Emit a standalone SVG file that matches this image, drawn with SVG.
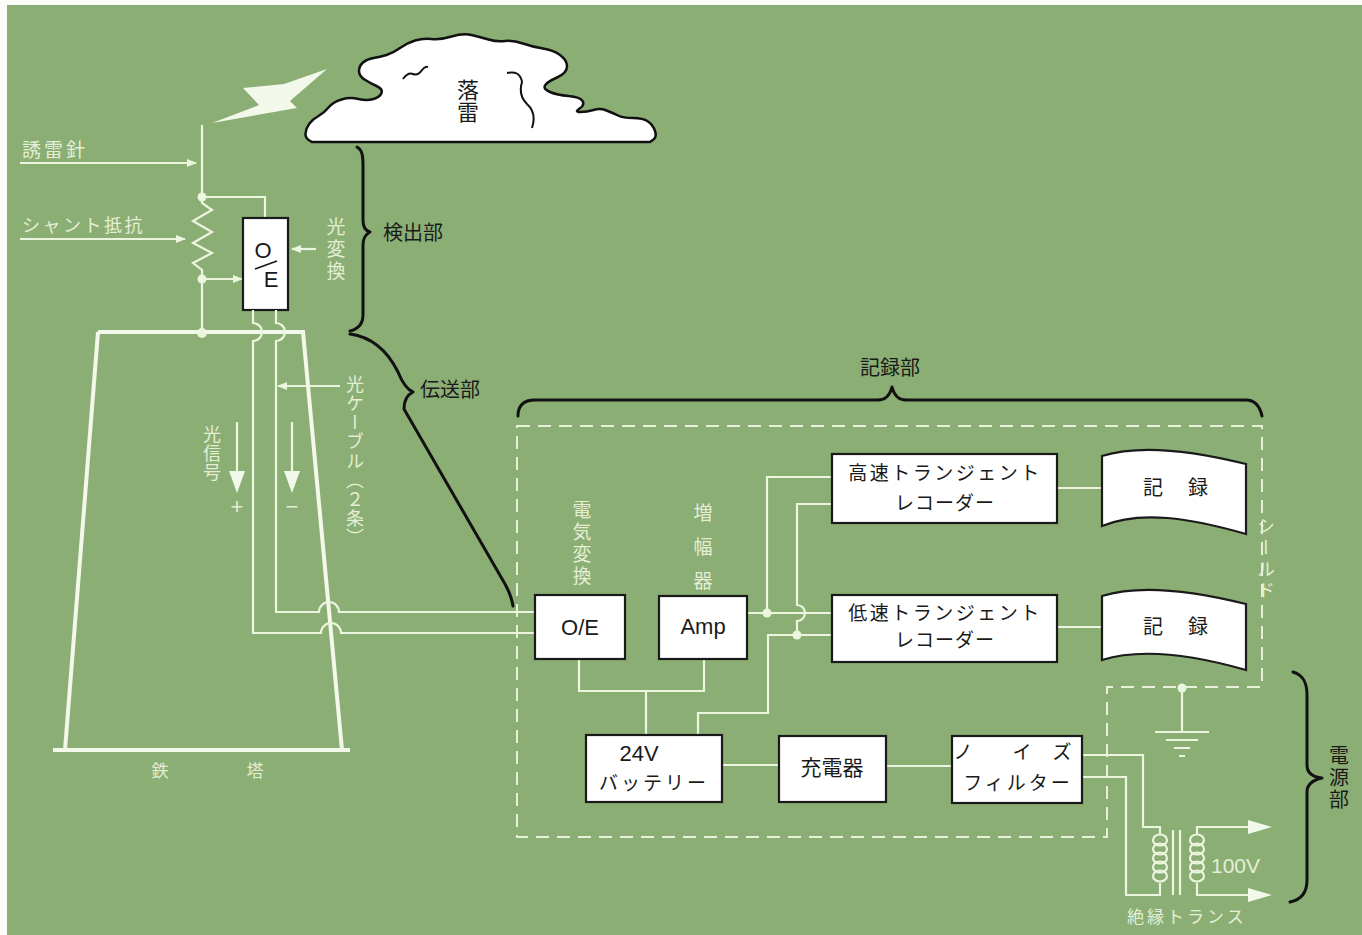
<svg xmlns="http://www.w3.org/2000/svg" width="1362" height="935" viewBox="0 0 1362 935">
<defs>
<style>
.w{fill:none;stroke:#ecf5de;stroke-width:2.2}
.tw{fill:none;stroke:#f2f8ea;stroke-width:4}
.dot{fill:#ecf5de}
.pf{fill:#f2f8ea}
.box{fill:#fff;stroke:#1a1a1a;stroke-width:2.2}
.blk{fill:none;stroke:#111;stroke-width:3;stroke-linecap:round;stroke-linejoin:round}
.dash{fill:none;stroke:#e6f1d8;stroke-width:2;stroke-dasharray:13 8}
.t{font-family:"Noto Sans CJK JP","Noto Sans",sans-serif;fill:#1a1a1a}
.pl{font-family:"Noto Sans CJK JP","Noto Sans",sans-serif;fill:#e4eed6}
.pll{font-family:"Liberation Sans","DejaVu Sans",sans-serif;fill:#e4eed6}
.lt{font-family:"Liberation Sans","DejaVu Sans",sans-serif;fill:#1a1a1a}
.v{writing-mode:vertical-rl}
</style>
<marker id="ah" viewBox="0 0 10 8" refX="9" refY="4" markerWidth="10" markerHeight="8" markerUnits="userSpaceOnUse" orient="auto"><path d="M0,0 L10,4 L0,8 z" fill="#ecf5de"/></marker>
</defs>

<!-- paper and green panel -->
<rect width="1362" height="935" fill="#fbfbf8"/>
<rect x="7" y="5" width="1355" height="930" fill="#8bae74"/>

<!-- thundercloud -->
<g id="cloud">
<path d="M312,142 Q305,139 305.5,133.5 Q306,128 309.5,123.5 Q313,119 318.5,116 Q324,113 328.5,107.5 Q333,102 341.5,99.5 Q350,97 358.5,99 Q367,101 373.5,99 Q380,97 381.5,93 Q383,89 376.5,86 Q370,83 364.5,79.5 Q359,76 359,71 Q359,66 363,62.5 Q367,59 373.5,58 Q380,57 386.5,55 Q393,53 400,48 Q407,43 415,40.5 Q423,38 431.5,39 Q440,40 451.5,36.5 Q463,33 471.5,35 Q480,37 488.5,39.5 Q497,42 505,41 Q513,40 523,43.5 Q533,47 543,48.5 Q553,50 560,55 Q567,60 567,66.5 Q567,73 557,77.5 Q547,82 545,85.5 Q543,89 550,92 Q557,95 568.5,96 Q580,97 582.5,101 Q585,105 579.5,108.5 Q574,112 580.5,112 Q587,112 593.5,110 Q600,108 606.5,110.5 Q613,113 618,115.5 Q623,118 633,118 Q643,118 648,121.5 Q653,125 655,131 Q657,137 653.5,139.5 L650,142 Z" fill="#fff" stroke="#111" stroke-width="2.5" stroke-linejoin="round"/>
<path d="M403,79 Q408,72 413,74 Q418,76 422,70 Q425,66 428,67" fill="none" stroke="#111" stroke-width="2"/>
<path d="M507,73 Q520,70 522,82 Q518,95 527,104 Q537,113 532,128" fill="none" stroke="#111" stroke-width="2"/>
<text class="t v" x="468" y="79" font-size="22">落雷</text>
</g>

<!-- lightning stroke -->
<g id="bolt">
<polygon points="243,88 284,84 327,69 290,101 297,108 212,123 259,105" class="pf"/>
</g>

<!-- steel tower -->
<g id="tower">
<path class="tw" d="M98,332 H303 L342,750 M98,332 L65,750 M53,750 H350"/>
<text class="pl" x="160" y="777" font-size="17" text-anchor="middle">鉄</text>
<text class="pl" x="255" y="777" font-size="17" text-anchor="middle">塔</text>
</g>

<!-- lightning rod, shunt resistor and optical converter -->
<g id="detector">
<path class="w" d="M202,125 V203 L212,210 L193,221 L212,232 L193,243 L212,253 L193,263 L202,270 V333"/>
<path class="w" d="M202,197 H265 V218"/>
<path class="w" d="M202,279 H242" marker-end="url(#ah)"/>
<circle class="dot" cx="202" cy="197" r="4.5"/>
<circle class="dot" cx="202" cy="279" r="4.5"/>
<circle class="dot" cx="202" cy="333" r="5"/>
<rect class="box" x="243" y="218" width="45" height="92"/>
<text class="lt" x="263" y="258" font-size="22" text-anchor="middle">O</text>
<line x1="255" y1="269" x2="277" y2="261" stroke="#1a1a1a" stroke-width="1.8"/>
<text class="lt" x="271" y="287" font-size="22" text-anchor="middle">E</text>
</g>

<!-- pointer labels on the tower side -->
<g id="labels-left">
<path class="w" d="M20,163 H196" marker-end="url(#ah)"/>
<text class="pl" x="22" y="157" font-size="19" letter-spacing="3">誘雷針</text>
<path class="w" d="M20,239 H185" marker-end="url(#ah)"/>
<text class="pl" x="22" y="232" font-size="18" letter-spacing="2.5">シャント抵抗</text>
<path class="w" d="M316,249 H292" marker-end="url(#ah)"/>
<text class="pl v" x="336" y="217" font-size="19" letter-spacing="3">光変換</text>
<path class="w" d="M340,386 H278" marker-end="url(#ah)"/>
<text class="pl v" x="355" y="375" font-size="18" letter-spacing="1.2">光ケーブル（２条）</text>
<text class="pl v" x="212" y="425" font-size="18" letter-spacing="1">光信号</text>
<line class="w" x1="237" y1="422" x2="237" y2="474"/>
<polygon class="pf" points="229,471 245,471 237,493"/>
<line class="w" x1="292" y1="422" x2="292" y2="474"/>
<polygon class="pf" points="284,471 300,471 292,493"/>
<text class="pll" x="237" y="514" font-size="22" text-anchor="middle">+</text>
<text class="pll" x="292" y="514" font-size="22" text-anchor="middle">−</text>
</g>

<!-- section braces -->
<g id="braces">
<path class="blk" d="M357,147 C362,150 363,155 363,165 V220 C363,227 366,231 370,232 C366,234 363,238 363,245 V315 C363,324 358,329 350,331"/>
<text class="t" x="383" y="240" font-size="20">検出部</text>
<path class="blk" d="M350,334 C372,337 388,352 398,372 C402,382 406,389 413,392 C407,395 404,401 404,409 L505,584 C510,593 512,599 513,606"/>
<text class="t" x="420" y="397" font-size="20">伝送部</text>
<path class="blk" d="M518,416 C518,406 523,400 535,400 H878 C886,400 890,395 892,387 C894,395 898,400 906,400 H1246 C1255,400 1260,407 1262,416"/>
<text class="t" x="860" y="375" font-size="20">記録部</text>
<path class="blk" d="M1293,672 C1303,675 1307,682 1307,695 V765 C1307,773 1313,777 1322,778 C1313,780 1307,784 1307,792 V880 C1307,893 1300,900 1290,902"/>
<text class="t v" x="1339" y="745" font-size="20" letter-spacing="2">電源部</text>
</g>

<!-- shield enclosure -->
<g id="shield">
<path class="dash" d="M517,426 H1262 V687 H1107 V837 H517 Z"/>
<text class="pl v" x="1266" y="517" font-size="18" letter-spacing="3.5">シールド</text>
</g>

<!-- wiring -->
<g id="connectors">
<!-- optical cables from the tower-top converter -->
<path class="w" d="M253,310 V323 A9,9 0 0 1 253,341 V633 H321 A10,10 0 0 1 341,633 H535"/>
<path class="w" d="M276,310 V323 A9,9 0 0 1 276,341 V612 H319 A10,10 0 0 1 339,612 H535"/>
<!-- amplifier to transient recorders -->
<path class="w" d="M747,613 H832"/>
<path class="w" d="M767,613 V477 H832"/>
<path class="w" d="M832,504 H797 V605 A8,8 0 0 1 797,621 V635"/>
<path class="w" d="M832,635 H768 V713 H698 V735"/>
<circle class="dot" cx="767" cy="613" r="4.5"/>
<circle class="dot" cx="797" cy="635" r="4.5"/>
<!-- recorders to charts -->
<path class="w" d="M1057,488 H1102 M1057,627 H1102"/>
<!-- supply lines -->
<path class="w" d="M579,659 V691 H704 V659 M646,691 V735"/>
<path class="w" d="M722,765 H779 M886,766 H952"/>
<!-- filter to isolation transformer -->
<path class="w" d="M1082,755 H1143 V827 H1160 V835"/>
<path class="w" d="M1082,777 H1126 V895 H1160 V883"/>
<path class="w" d="M1173,830 V895 M1180,830 V895"/>
<path class="w" d="M1197,835 V827 H1250 M1197,883 V895 H1250"/>
<!-- ground -->
<path class="w" d="M1182,688 V732 M1155,732 H1209 M1166,740 H1198 M1174,748 H1190 M1179,756 H1185"/>
<circle class="dot" cx="1182" cy="688" r="4.5"/>
</g>

<!-- isolation transformer coils -->
<g id="transformer">
<ellipse class="w" cx="1160" cy="840" rx="7" ry="5.5"/>
<ellipse class="w" cx="1160" cy="849" rx="7" ry="5.5"/>
<ellipse class="w" cx="1160" cy="858" rx="7" ry="5.5"/>
<ellipse class="w" cx="1160" cy="867" rx="7" ry="5.5"/>
<ellipse class="w" cx="1160" cy="876" rx="7" ry="5.5"/>
<ellipse class="w" cx="1197" cy="840" rx="7" ry="5.5"/>
<ellipse class="w" cx="1197" cy="849" rx="7" ry="5.5"/>
<ellipse class="w" cx="1197" cy="858" rx="7" ry="5.5"/>
<ellipse class="w" cx="1197" cy="867" rx="7" ry="5.5"/>
<ellipse class="w" cx="1197" cy="876" rx="7" ry="5.5"/>
<polygon class="pf" points="1248,820 1272,827 1248,834"/>
<polygon class="pf" points="1248,888 1272,895 1248,902"/>
<text class="pll" x="1211" y="873" font-size="21">100V</text>
<text class="pl" x="1127" y="923" font-size="17" letter-spacing="3">絶縁トランス</text>
</g>

<g id="oe-rx">
<rect class="box" x="535" y="595" width="90" height="64"/>
<text class="lt" x="580" y="635" font-size="22" text-anchor="middle">O/E</text>
<text class="pl v" x="582" y="500" font-size="19" letter-spacing="3">電気変換</text>
</g>

<g id="amp">
<rect class="box" x="659" y="596" width="88" height="63"/>
<text class="lt" x="703" y="634" font-size="22" text-anchor="middle">Amp</text>
<text class="pl v" x="703" y="503" font-size="19" letter-spacing="15">増幅器</text>
</g>

<g id="fast-recorder">
<rect class="box" x="832" y="454" width="225" height="69"/>
<text class="t" x="945" y="480" font-size="19" letter-spacing="2.5" text-anchor="middle">高速トランジェント</text>
<text class="t" x="945" y="510" font-size="19" letter-spacing="1" text-anchor="middle">レコーダー</text>
</g>

<g id="slow-recorder">
<rect class="box" x="832" y="595" width="225" height="67"/>
<text class="t" x="945" y="620" font-size="19" letter-spacing="2.5" text-anchor="middle">低速トランジェント</text>
<text class="t" x="945" y="647" font-size="19" letter-spacing="1" text-anchor="middle">レコーダー</text>
</g>

<g id="chart-1">
<path class="box" d="M1102,456 C1140,444 1190,450 1246,464 L1246,534 C1190,518 1140,510 1102,526 Z"/>
<text class="t" x="1153" y="495" font-size="20" text-anchor="middle">記</text>
<text class="t" x="1198" y="495" font-size="20" text-anchor="middle">録</text>
</g>

<g id="chart-2">
<path class="box" d="M1102,596 C1140,584 1190,590 1246,604 L1246,670 C1190,654 1140,648 1102,660 Z"/>
<text class="t" x="1153" y="634" font-size="20" text-anchor="middle">記</text>
<text class="t" x="1198" y="634" font-size="20" text-anchor="middle">録</text>
</g>

<g id="battery">
<rect class="box" x="586" y="735" width="136" height="67"/>
<text class="lt" x="639" y="761" font-size="22" text-anchor="middle">24V</text>
<text class="t" x="654" y="790" font-size="19" letter-spacing="3" text-anchor="middle">バッテリー</text>
</g>

<g id="charger">
<rect class="box" x="779" y="736" width="107" height="66"/>
<text class="t" x="832" y="775" font-size="21" text-anchor="middle">充電器</text>
</g>

<g id="noise-filter">
<rect class="box" x="952" y="736" width="130" height="67"/>
<text class="t" x="963" y="759" font-size="19" text-anchor="middle">ノ</text>
<text class="t" x="1022" y="759" font-size="19" text-anchor="middle">イ</text>
<text class="t" x="1062" y="759" font-size="19" text-anchor="middle">ズ</text>
<text class="t" x="1018" y="790" font-size="19" letter-spacing="3" text-anchor="middle">フィルター</text>
</g>
</svg>
